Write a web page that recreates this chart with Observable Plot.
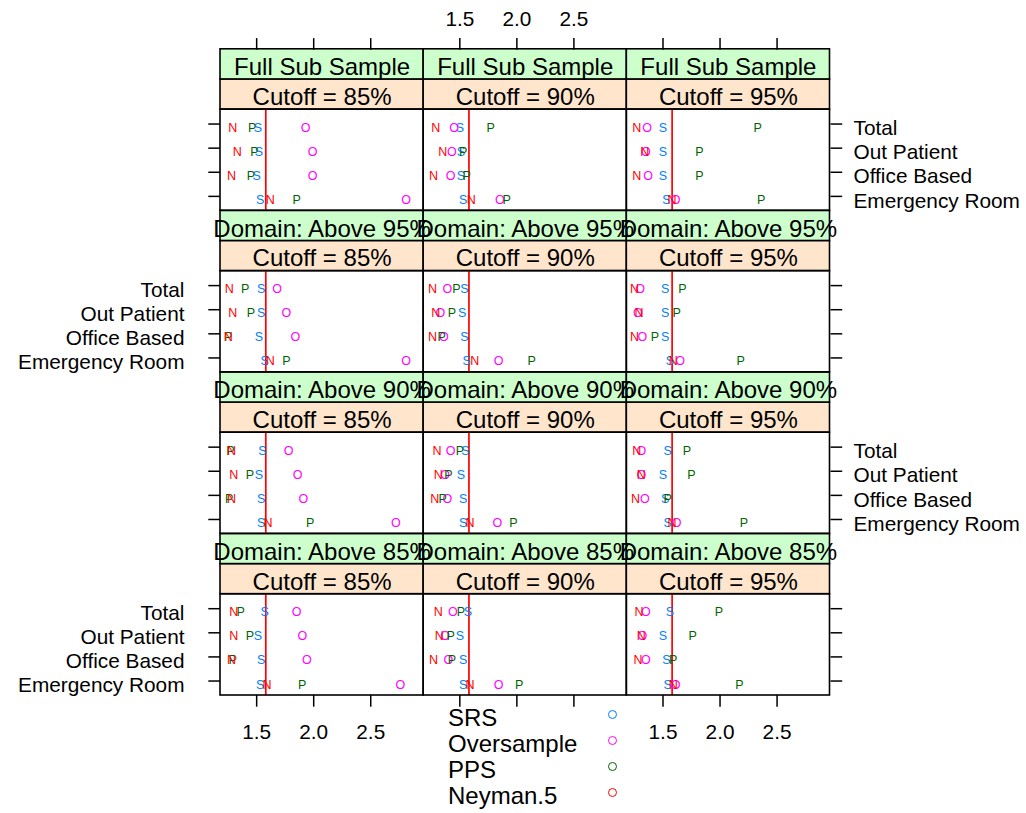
<!DOCTYPE html>
<html><head><meta charset="utf-8">
<script src="https://cdn.jsdelivr.net/npm/d3@7"></script>
<script src="https://cdn.jsdelivr.net/npm/@observablehq/plot@0.6"></script>
<style>
body{margin:0;background:#fff;font-family:"Liberation Sans",Arial,Helvetica,sans-serif;}
#wrap{position:relative;width:1026px;height:813px;}
#legend{position:absolute;left:448px;top:705px;}
.row{position:relative;height:26px;line-height:26px;font-size:24px;color:#000;white-space:nowrap;}
.sym{position:absolute;left:160px;top:4.5px;width:9px;height:9px;border-radius:50%;border:1.4px solid;box-sizing:border-box;}
</style></head><body><div id="wrap"></div>
<script>
// ---- data ----
const categories = ["Total", "Out Patient", "Office Based", "Emergency Room"];
const cutoffs = ["Cutoff = 85%", "Cutoff = 90%", "Cutoff = 95%"];
const domains = ["Full Sub Sample", "Domain: Above 95%", "Domain: Above 90%", "Domain: Above 85%"];
const methods = ["SRS", "Oversample", "PPS", "Neyman.5"];
const letters = ["S", "O", "P", "N"];
const colors = ["#0080ff", "#ff00ff", "#006400", "#ff0000"];
const xTicks = [1.5, 2.0, 2.5];
const refValue = 1.58;

// values[domain][cutoff][category: Total, Out Patient, Office Based, Emergency Room]
const srs = [
  [[1.51, 1.52, 1.50, 1.53], [1.50, 1.51, 1.51, 1.53], [1.50, 1.50, 1.50, 1.53]],
  [[1.54, 1.54, 1.52, 1.57], [1.54, 1.52, 1.54, 1.56], [1.52, 1.52, 1.52, 1.56]],
  [[1.55, 1.52, 1.54, 1.54], [1.55, 1.51, 1.53, 1.53], [1.54, 1.50, 1.52, 1.54]],
  [[1.57, 1.51, 1.54, 1.53], [1.57, 1.50, 1.53, 1.53], [1.56, 1.50, 1.53, 1.54]]
];
const oversample = [
  [[1.93, 1.99, 1.99, 2.81], [1.45, 1.43, 1.42, 1.85], [1.36, 1.35, 1.37, 1.61]],
  [[1.68, 1.76, 1.84, 2.81], [1.39, 1.33, 1.36, 1.84], [1.30, 1.28, 1.32, 1.65]],
  [[1.78, 1.86, 1.91, 2.72], [1.42, 1.37, 1.39, 1.83], [1.31, 1.31, 1.34, 1.62]],
  [[1.85, 1.90, 1.94, 2.76], [1.44, 1.37, 1.40, 1.84], [1.35, 1.32, 1.35, 1.61]]
];
const pps = [
  [[1.46, 1.48, 1.45, 1.85], [1.77, 1.53, 1.56, 1.91], [2.33, 1.82, 1.82, 2.36]],
  [[1.40, 1.45, 1.25, 1.76], [1.47, 1.43, 1.34, 2.13], [1.67, 1.62, 1.43, 2.18]],
  [[1.27, 1.44, 1.26, 1.97], [1.50, 1.40, 1.35, 1.97], [1.71, 1.75, 1.54, 2.21]],
  [[1.36, 1.44, 1.29, 1.90], [1.51, 1.42, 1.43, 2.02], [1.99, 1.76, 1.59, 2.17]]
];
const neyman = [
  [[1.29, 1.33, 1.28, 1.62], [1.29, 1.35, 1.27, 1.60], [1.27, 1.34, 1.27, 1.58]],
  [[1.26, 1.29, 1.25, 1.62], [1.26, 1.29, 1.26, 1.63], [1.25, 1.29, 1.25, 1.59]],
  [[1.28, 1.30, 1.28, 1.60], [1.30, 1.31, 1.28, 1.59], [1.27, 1.31, 1.26, 1.58]],
  [[1.30, 1.30, 1.28, 1.59], [1.31, 1.32, 1.27, 1.59], [1.29, 1.31, 1.28, 1.59]]
];
const seriesValues = [srs, oversample, pps, neyman];

// ---- tables built from the arrays ----
const points = [];
methods.forEach((m, mi) => domains.forEach((dm, di) => cutoffs.forEach((c, ci) =>
  categories.forEach((cat, ki) => points.push({
    method: m, letter: letters[mi], domain: dm, cutoff: c, category: cat,
    value: seriesValues[mi][di][ci][ki]
  })))));
const cells = domains.flatMap(dm => cutoffs.map(c => ({domain: dm, cutoff: c})));
const rowLabels = domains.flatMap((dm, di) => categories.map(cat => ({domain: dm, category: cat, side: di % 2 === 0 ? "right" : "left"})));
const bottomTickLabels = [cutoffs[0], cutoffs[2]].flatMap(c => xTicks.map(t => ({cutoff: c, tick: t})));
const topTickLabels = xTicks.map(t => ({tick: t}));

// ---- layout ----
const xDom = [1.183, 2.964];
const yLo = 0.4, yHi = 4.6, stripH = 1.25, yTop = yHi + 2 * stripH;
const ypos = d => categories.length - categories.indexOf(d.category);
const FONT = "'Liberation Sans', Arial, Helvetica, sans-serif";

const chart = Plot.plot({
  width: 1026,
  height: 813,
  marginLeft: 220,
  marginRight: 196.5,
  marginTop: 48.8,
  marginBottom: 118,
  style: {fontFamily: FONT, fontSize: "20px", background: "white"},
  fx: {domain: cutoffs, padding: 0, axis: null, round: false},
  fy: {domain: domains, padding: 0, axis: null, round: false},
  x: {domain: xDom, label: null},
  y: {domain: [yLo, yTop], label: null},
  color: {domain: methods, range: colors},
  marks: [
    // strips
    Plot.rect(cells, {fx: "cutoff", fy: "domain", x1: xDom[0], x2: xDom[1], y1: yHi, y2: yHi + stripH, fill: "#ffe5cc", stroke: "black", strokeWidth: 1.6}),
    Plot.rect(cells, {fx: "cutoff", fy: "domain", x1: xDom[0], x2: xDom[1], y1: yHi + stripH, y2: yTop, fill: "#ccffcc", stroke: "black", strokeWidth: 1.6}),
    Plot.text(cells, {fx: "cutoff", fy: "domain", x: (xDom[0] + xDom[1]) / 2, y: yHi + stripH / 2, text: "cutoff", fontSize: 24, dy: 2.7}),
    Plot.text(cells, {fx: "cutoff", fy: "domain", x: (xDom[0] + xDom[1]) / 2, y: yHi + stripH * 1.5, text: "domain", fontSize: 24, dy: 3}),
    // reference line
    Plot.ruleX([refValue], {y1: yLo, y2: yHi, stroke: "red", strokeWidth: 1.7}),
    // points as letters
    Plot.text(points, {fx: "cutoff", fy: "domain", x: "value", y: ypos, text: "letter", fill: "method", fontSize: 12.5, dy: 3.5}),
    // panel borders
    Plot.rect(cells, {fx: "cutoff", fy: "domain", x1: xDom[0], x2: xDom[1], y1: yLo, y2: yHi, fill: "none", stroke: "black", strokeWidth: 1.6}),
    // tick marks
    Plot.axisY({anchor: "left", facetAnchor: "left", ticks: [1, 2, 3, 4], tickSize: 11.7, strokeWidth: 1.5, fill: "none", label: null}),
    Plot.axisY({anchor: "right", facetAnchor: "right", ticks: [1, 2, 3, 4], tickSize: 11.7, strokeWidth: 1.5, fill: "none", label: null}),
    Plot.axisX({anchor: "bottom", facetAnchor: "bottom", ticks: xTicks, tickSize: 11.7, strokeWidth: 1.5, fill: "none", label: null}),
    Plot.axisX({anchor: "top", facetAnchor: "top", ticks: xTicks, tickSize: 11.7, strokeWidth: 1.5, fill: "none", label: null}),
    // tick labels (alternating, as in lattice)
    Plot.text(rowLabels.filter(d => d.side === "left"), {fx: () => cutoffs[0], fy: "domain", x: xDom[0], y: ypos, text: "category", textAnchor: "end", dx: -36, dy: 4.5, fontSize: 20.8}),
    Plot.text(rowLabels.filter(d => d.side === "right"), {fx: () => cutoffs[2], fy: "domain", x: xDom[1], y: ypos, text: "category", textAnchor: "start", dx: 23.5, dy: 4.5, fontSize: 20.8}),
    Plot.text(bottomTickLabels, {fx: "cutoff", fy: () => domains[3], x: "tick", y: yLo, dy: 37, text: d => d.tick.toFixed(1), fontSize: 20.8}),
    Plot.text(topTickLabels, {fx: () => cutoffs[1], fy: () => domains[0], x: "tick", y: yTop, dy: -30, text: d => d.tick.toFixed(1), fontSize: 20.8})
  ]
});
const wrap = document.getElementById("wrap");
wrap.appendChild(chart);

// legend
const legend = document.createElement("div");
legend.id = "legend";
methods.forEach((m, i) => {
  const row = document.createElement("div");
  row.className = "row";
  row.textContent = m;
  const sym = document.createElement("span");
  sym.className = "sym";
  sym.style.borderColor = colors[i];
  row.appendChild(sym);
  legend.appendChild(row);
});
wrap.appendChild(legend);
</script></body></html>
